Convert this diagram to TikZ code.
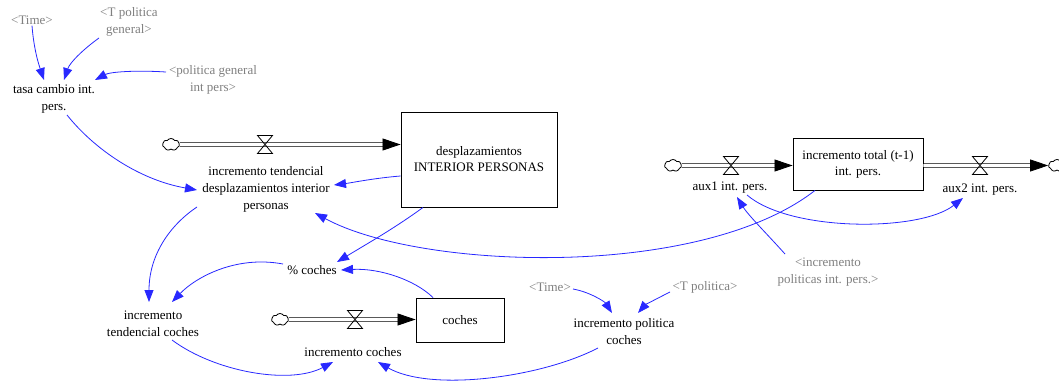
\documentclass[tikz,border=0pt]{standalone}
\usepackage{fontspec}
\setmainfont{Liberation Serif}
\usetikzlibrary{arrows.meta,calc,shapes.symbols}

\definecolor{linkblue}{RGB}{40,40,255}
\definecolor{shadowgray}{RGB}{128,128,128}

\tikzset{
  var/.style={align=center, font=\fontsize{13}{17}\selectfont, inner sep=1pt},
  ghost/.style={var, text=shadowgray},
  stock/.style={draw, line width=0.9pt, rectangle, inner sep=0pt, align=center,
    font=\fontsize{13}{16}\selectfont},
  link/.style={draw=linkblue, line width=0.8pt, -{Triangle[length=12pt,width=9pt]}},
  pipe/.style={draw, double distance=2.8pt, line width=0.8pt, shorten >=10pt},
  flowhead/.style={line width=0.8pt, -{Triangle[length=18pt,width=12pt]}},
  cloudsym/.style={cloud, draw, cloud puffs=7, cloud puff arc=110, cloud ignores aspect,
    minimum width=17pt, minimum height=12pt, inner sep=0pt, line width=0.8pt},
  valve/.pic={\draw[line width=0.8pt] (-7.5,-9) -- (7.5,-9) -- (-7.5,9) -- (7.5,9) -- cycle;}
}

\begin{document}
\begin{tikzpicture}[x=1pt, y=-1pt]
  \useasboundingbox[fill=white] (0,0) rectangle (1059,383);

  % variables
  \node[ghost] (time1) at (32,20) {<Time>};
  \node[ghost] (tpg) at (129,21.5) {<T politica\\general>};
  \node[ghost] (pgi) at (213,80) {<politica general\\int pers>};
  \node[var] (tasa) at (54,98.5) {tasa cambio int.\\pers.};
  \node[var] (itd) at (266,189) {incremento tendencial\\desplazamientos interior\\personas};
  \node[var] (aux1) at (730,188) {aux1 int. pers.};
  \node[var] (aux2) at (980,190) {aux2 int. pers.};
  \node[ghost] (ipi) at (828,272) {<incremento\\politicas int. pers.>};
  \node[var] (pc) at (312,270) {\% coches};
  \node[var] (itc) at (153,324) {incremento\\tendencial coches};
  \node[var] (ic) at (353,352) {incremento coches};
  \node[var] (ipc) at (624,331.5) {incremento politica\\coches};
  \node[ghost] (time2) at (550,287) {<Time>};
  \node[ghost] (tp) at (705,287) {<T politica>};

  % stocks
  \node[stock, minimum width=156pt, minimum height=95pt] (desp) at (479,159.5)
    {desplazamientos\\INTERIOR PERSONAS};
  \node[stock, minimum width=130pt, minimum height=52pt] (tot) at (858,164)
    {incremento total (t-1)\\int. pers.};
  \node[stock, minimum width=88pt, minimum height=44pt] (coches) at (460,320) {coches};

  % sources and sinks
  \node[cloudsym] (c1) at (171,144.5) {};
  \node[cloudsym] (c2) at (673,165.5) {};
  \node[cloudsym] (c3) at (1057,165.5) {};
  \node[cloudsym] (c4) at (280,319.5) {};

  % flows
  \draw[pipe] (c1.east) -- (c1 -| desp.west);
  \draw[flowhead] ($(c1 -| desp.west)+(-18,0)$) -- (c1 -| desp.west);
  \pic (v1) at (265,144.5) {valve};

  \draw[pipe] (c2.east) -- (c2 -| tot.west);
  \draw[flowhead] ($(c2 -| tot.west)+(-18,0)$) -- (c2 -| tot.west);
  \pic (v2) at (731,165.5) {valve};

  \draw[pipe] (c3 -| tot.east) -- (c3.west);
  \draw[flowhead] ($(c3.west)+(-18,0)$) -- (c3.west);
  \pic (v3) at (980,165.5) {valve};

  \draw[pipe] (c4.east) -- (c4 -| coches.west);
  \draw[flowhead] ($(c4 -| coches.west)+(-18,0)$) -- (c4 -| coches.west);
  \pic (v4) at (355,319.5) {valve};

  % information links
  \draw[link] (time1.south) .. controls (34,52) and (40,68) .. ($(tasa)+(-10,-18.5)$);
  \draw[link] ($(tpg)+(-30,16.5)$) .. controls (85,48) and (70,62) .. ($(tasa)+(10,-18.5)$);
  \draw[link] ($(pgi)+(-47,-8)$) .. controls (135,70) and (110,72) .. ($(tasa)+(41,-18.5)$);
  \draw[link] ($(tasa)+(13,16.5)$) .. controls (95,150) and (140,180) .. ($(itd)+(-69,1)$);
  \draw[link] ($(desp.west)+(0,16.5)$) .. controls (375,178) and (350,183) .. ($(itd)+(68,-4)$);
  \draw[link] ($(tot.south)+(-43,0)$) .. controls (700,280) and (420,270) .. ($(itd)+(49,24)$);
  \draw[link] ($(desp.south)+(-56,0)$) .. controls (395,228) and (365,245) .. ($(pc)+(25,-8)$);
  \draw[link] ($(itd)+(-69,18)$) .. controls (170,225) and (149,255) .. ($(itc)+(-4,-22)$);
  \draw[link] ($(pc)+(-29,-6)$) .. controls (235,255) and (195,278) .. ($(itc)+(19,-22)$);
  \draw[link] ($(coches.north)+(-27,0)$) .. controls (415,280) and (380,268) .. ($(pc)+(29,0)$);
  \draw[link] ($(itc)+(19,16)$) .. controls (215,372) and (290,385) .. ($(ic)+(-20,10)$);
  \draw[link] ($(ipc)+(-26,16.5)$) .. controls (540,378) and (430,392) .. ($(ic)+(25,10)$);
  \draw[link] ($(time2)+(23,2)$) .. controls (590,292) and (605,302) .. ($(ipc)+(-12,-18.5)$);
  \draw[link] ($(tp)+(-35,5)$) .. controls (658,298) and (645,305) .. ($(ipc)+(14,-18.5)$);
  \draw[link] ($(aux1)+(17,7)$) .. controls (790,232) and (920,232) .. ($(aux2)+(-17,8)$);
  \draw[link] ($(ipi)+(-43,-18)$) .. controls (768,235) and (748,215) .. ($(aux1)+(7,9)$);
\end{tikzpicture}
\end{document}
